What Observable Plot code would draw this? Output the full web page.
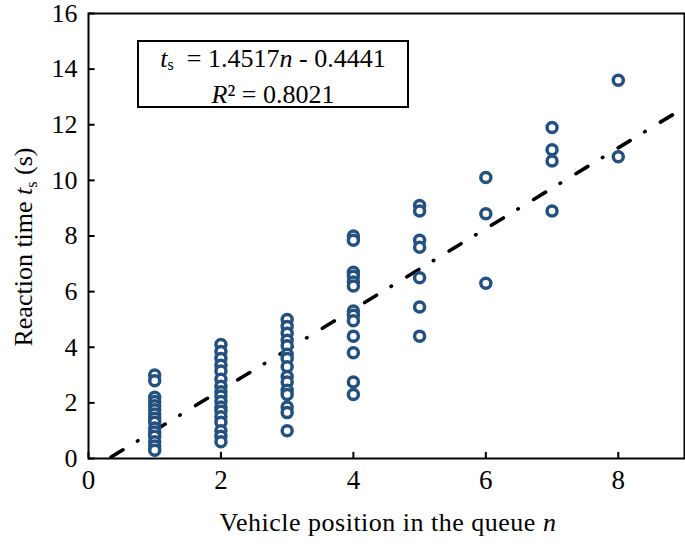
<!DOCTYPE html>
<html>
<head>
<meta charset="utf-8">
<script src="https://cdn.jsdelivr.net/npm/d3@7"></script>
<script src="https://cdn.jsdelivr.net/npm/@observablehq/plot@0.6"></script>
<style>
  html, body { margin: 0; padding: 0; background: #fff; }
  #wrap { position: relative; width: 685px; height: 547px; font-family: "Liberation Serif", "Times New Roman", serif; }
  #eq { position: absolute; left: 137px; top: 40px; width: 268px; border: 2px solid #000; background: #fff;
        font-size: 26px; line-height: 30px; text-align: center; color: #000; padding-top: 2px; box-sizing: content-box; height: 62px; }
  #eq sub { font-size: 16px; vertical-align: -3px; }
</style>
</head>
<body>
<div id="wrap"></div>
<script>
// Vehicle position in queue -> observed reaction times (s)
const positions = [1, 2, 3, 4, 5, 6, 7, 8];
const times1 = [3.0, 2.8, 2.2, 2.05, 1.9, 1.75, 1.6, 1.45, 1.3, 1.1, 0.95, 0.8, 0.6, 0.45, 0.3];
const times2 = [4.1, 3.85, 3.6, 3.35, 3.15, 2.85, 2.6, 2.4, 2.25, 2.05, 1.85, 1.7, 1.5, 1.3, 1.0, 0.8, 0.6];
const times3 = [5.0, 4.75, 4.5, 4.25, 4.05, 3.75, 3.6, 3.3, 2.95, 2.75, 2.45, 2.3, 1.85, 1.65, 1.0];
const times4 = [8.0, 7.85, 6.7, 6.55, 6.35, 6.2, 5.3, 5.15, 4.95, 4.4, 3.8, 2.75, 2.3];
const times5 = [9.1, 8.9, 7.85, 7.6, 6.5, 5.45, 4.4];
const times6 = [10.1, 8.8, 6.3];
const times7 = [11.9, 11.1, 10.7, 8.9];
const times8 = [13.6, 10.85];
const slope = 1.4517;
const intercept = -0.4441;
const fitRange = [0.34, 9];
const xTicks = [0, 2, 4, 6, 8];
const yTicks = [0, 2, 4, 6, 8, 10, 12, 14, 16];

const groups = [times1, times2, times3, times4, times5, times6, times7, times8];
const points = [];
positions.forEach((n, i) => groups[i].forEach(t => points.push({n, t})));
const fit = fitRange.map(n => ({n, t: slope * n + intercept}));

const font = '"Liberation Serif", "Times New Roman", serif';
const chart = Plot.plot({
  width: 685,
  height: 547,
  marginLeft: 88,
  marginRight: 1,
  marginTop: 13,
  marginBottom: 89,
  style: {fontFamily: font, fontSize: "26px", color: "#000", background: "#fff"},
  x: {domain: [0, 9], ticks: xTicks, label: null},
  y: {domain: [0, 16], ticks: yTicks, label: null},
  marks: [
    Plot.line(fit, {x: "n", y: "t", stroke: "#000", strokeWidth: 3.6, strokeLinecap: "round",
      strokeDasharray: "14,17,0.5,18"}),
    Plot.dot(points, {x: "n", y: "t", r: 5, stroke: "#24517f", strokeWidth: 3.5, fill: "#fff"}),
    Plot.axisX({ticks: xTicks, tickSize: 0, text: null, label: null}),
    Plot.axisY({ticks: yTicks, tickSize: 0, text: null, label: null}),
    Plot.text(xTicks, {x: d => d, frameAnchor: "bottom", dy: 22, text: d => String(d),
      fontSize: 27, fontFamily: font, fill: "#000", lineAnchor: "middle"}),
    Plot.text(yTicks, {y: d => d, frameAnchor: "left", dx: -11, text: d => String(d),
      fontSize: 26, fontFamily: font, fill: "#000", textAnchor: "end"}),
    Plot.ruleX(xTicks, {x: d => d, y1: 0, y2: 0.22, stroke: "#000", strokeWidth: 2}),
    Plot.ruleY(yTicks, {y: d => d, x1: 0, x2: 0.1, stroke: "#000", strokeWidth: 2}),
    Plot.frame({stroke: "#000", strokeWidth: 2})
  ]
});

const wrap = document.getElementById("wrap");
wrap.appendChild(chart);
const svg = d3.select(chart);

// x axis label
const xl = svg.append("text").attr("x", 388).attr("y", 531).attr("text-anchor", "middle")
  .attr("font-family", font).attr("font-size", 26).attr("letter-spacing", 0.5).attr("fill", "#000");
xl.append("tspan").text("Vehicle position in the queue ");
xl.append("tspan").attr("font-style", "italic").text("n");

// y axis label
const yl = svg.append("text").attr("transform", "translate(32,247) rotate(-90)").attr("text-anchor", "middle")
  .attr("font-family", font).attr("font-size", 26).attr("fill", "#000");
yl.append("tspan").text("Reaction time ");
yl.append("tspan").attr("font-style", "italic").text("t");
yl.append("tspan").attr("font-size", 16).attr("dy", 5).text("s");
yl.append("tspan").attr("dy", -5).text(" (s)");

// equation box
const eq = document.createElement("div");
eq.id = "eq";
eq.innerHTML = '<div><i>t</i><sub>s</sub>&nbsp;&nbsp;= 1.4517<i>n</i> - 0.4441</div><div><i>R</i>² = 0.8021</div>';
wrap.appendChild(eq);
</script>
</body>
</html>
